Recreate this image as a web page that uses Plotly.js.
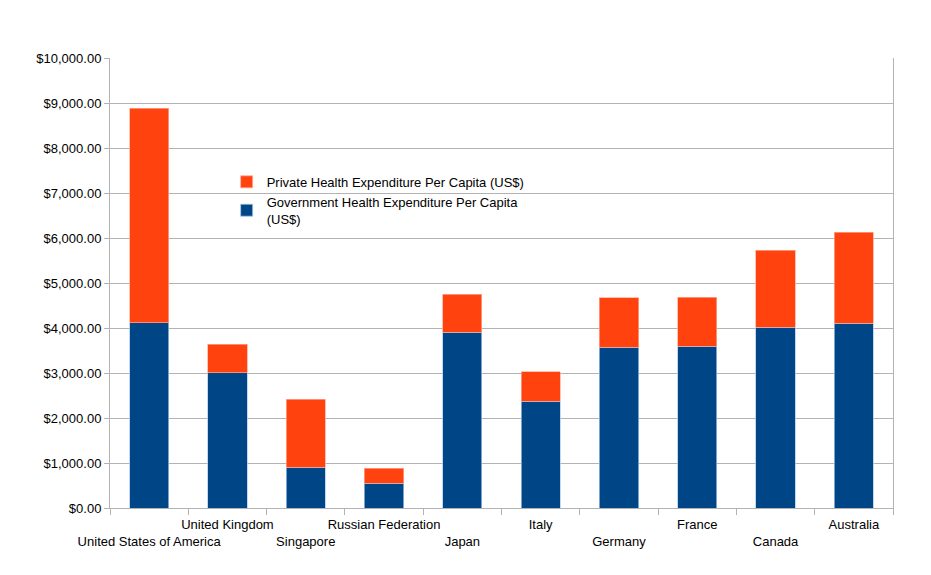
<!DOCTYPE html>
<html>
<head>
<meta charset="utf-8">
<script src="https://cdn.plot.ly/plotly-3.0.1.min.js"></script>
<style>html,body{margin:0;padding:0;background:#fff;}#chart{width:931px;height:575px;}</style>
</head>
<body>
<div id="chart"></div>
<script>
const countries = ["United States of America","United Kingdom","Singapore","Russian Federation","Japan","Italy","Germany","France","Canada","Australia"];
const governmentSpend = [4118, 3007, 911, 547, 3911, 2369, 3569, 3600, 4013, 4102];
const privateSpend = [4771, 637, 1511, 333, 836, 660, 1104, 1089, 1720, 2031];
const yTickValues = [0,1000,2000,3000,4000,5000,6000,7000,8000,9000,10000];
const yTickLabels = ["$0.00","$1,000.00","$2,000.00","$3,000.00","$4,000.00","$5,000.00","$6,000.00","$7,000.00","$8,000.00","$9,000.00","$10,000.00"];

// staggered category labels: even index on lower row
const xTickLabels = countries.map((c, i) => i % 2 === 0 ? "\u00a0<br>" + c : c + "<br>\u00a0");

const traces = [
  {
    type: "bar", name: "Government Health Expenditure Per Capita<br>(US$)",
    x: countries, y: governmentSpend,
    marker: {color: "#004586", line: {color: "rgba(170,200,235,0.9)", width: 0.8}}
  },
  {
    type: "bar", name: "Private Health Expenditure Per Capita (US$)",
    x: countries, y: privateSpend,
    marker: {color: "#ff420e", line: {color: "rgba(255,170,150,0.9)", width: 0.8}}
  }
];

const layout = {
  width: 931, height: 575,
  margin: {l: 110, r: 38, t: 58, b: 67},
  paper_bgcolor: "#fff", plot_bgcolor: "#fff",
  barmode: "stack", bargap: 0.5,
  font: {family: "Liberation Sans, Arial, sans-serif", size: 13, color: "#000"},
  showlegend: true,
  legend: {
    x: 0.149, y: 0.758, xanchor: "left", yanchor: "top",
    traceorder: "reversed", bgcolor: "rgba(0,0,0,0)",
    font: {size: 13, color: "#000"}, itemwidth: 30, tracegroupgap: 0
  },
  xaxis: {
    type: "category", tickmode: "array", tickvals: countries, ticktext: xTickLabels,
    tickangle: 0,
    showline: true, linecolor: "#b3b3b3", linewidth: 1,
    ticks: "outside", tickson: "boundaries", ticklen: 6, tickcolor: "#b3b3b3",
    showgrid: false, zeroline: false, fixedrange: true,
    tickfont: {size: 13, color: "#000"}, ticklabelstandoff: 4
  },
  yaxis: {
    range: [0, 10000], tickmode: "array", tickvals: yTickValues, ticktext: yTickLabels,
    showline: true, mirror: true, linecolor: "#b3b3b3", linewidth: 1,
    ticks: "outside", ticklen: 5, tickcolor: "#b3b3b3",
    showgrid: true, gridcolor: "#b3b3b3", gridwidth: 1, zeroline: false,
    tickfont: {size: 13, color: "#000"}, ticklabelstandoff: 0
  }
};

Plotly.newPlot("chart", traces, layout, {displayModeBar: false, staticPlot: true});
</script>
</body>
</html>
